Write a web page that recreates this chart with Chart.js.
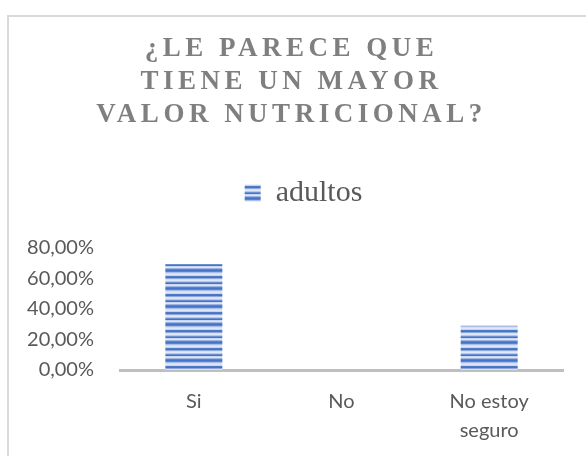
<!DOCTYPE html>
<html>
<head>
<meta charset="utf-8">
<script src="https://cdn.jsdelivr.net/npm/chart.js@4"></script>
<style>
  body { margin: 0; background: #fff; }
  #frame { position: absolute; left: 7px; top: 15px; width: 600px; height: 460px;
           border-left: 2px solid #d9d9d9; border-top: 2px solid #d9d9d9; }
  #chart { position: absolute; left: 0; top: 0; }
</style>
</head>
<body>
<div id="frame"></div>
<canvas id="chart" width="586" height="456"></canvas>
<script>
// Data
const titleLines = ["¿LE PARECE QUE", "TIENE UN MAYOR", "VALOR NUTRICIONAL?"];
const categories = ["Si", "No", ["No estoy", "seguro"]];
const seriesName = "adultos";
const adultos = [0.695, 0, 0.29];
const yTicks = [0, 0.2, 0.4, 0.6, 0.8];

// Striped fill like the Excel texture
function makeStripes() {
  const rows = ["#4472c4", "#5b84cc", "#a9bde6", "#d3def2", "#dfe7f5", "#c4d3ee",
                "#4f7ac8", "#4472c4", "#8ea9dd", "#d6e0f3", "#e2e9f6", "#b7c9ea",
                "#6a8fd2", "#4472c4", "#c9d6ef", "#dde5f5", "#9db4e2", "#5a82cb"];
  const c = document.createElement("canvas");
  c.width = 4;
  c.height = rows.length;
  const g = c.getContext("2d");
  rows.forEach((col, i) => { g.fillStyle = col; g.fillRect(0, i, 4, 1); });
  return document.getElementById("chart").getContext("2d").createPattern(c, "repeat");
}
const stripes = makeStripes();

// Extra room under legend, shifted title/legend, letter spacing on the title
const tweaks = {
  id: "tweaks",
  afterInit(chart) {
    const legend = chart.legend;
    const fit = legend.fit;
    legend.fit = function () { fit.call(this); this.height += 30; };
    const ldraw = legend.draw;
    legend.draw = function () {
      this.ctx.save();
      this.ctx.translate(22, 0);
      ldraw.call(this);
      this.ctx.restore();
    };
    const tb = chart.titleBlock;
    const draw = tb.draw;
    tb.draw = function () {
      const ctx = this.ctx;
      ctx.save();
      ctx.translate(10, 0);
      ctx.letterSpacing = "4.5px";
      draw.call(this);
      ctx.restore();
    };
  }
};

const fmt = v => (v * 100).toFixed(2).replace(".", ",") + "%";

new Chart(document.getElementById("chart"), {
  type: "bar",
  data: {
    labels: categories,
    datasets: [{
      label: seriesName,
      data: adultos,
      backgroundColor: stripes,
      borderWidth: 0,
      categoryPercentage: 1,
      barPercentage: 0.386
    }]
  },
  options: {
    responsive: false,
    animation: false,
    layout: { padding: { left: 0, right: 23, top: 0, bottom: 0 } },
    plugins: {
      title: {
        display: true,
        text: titleLines,
        color: "#7f7f7f",
        font: { family: "Liberation Serif", size: 27, weight: "bold", lineHeight: 1.222 },
        padding: { top: 32.5, bottom: 36.5 }
      },
      legend: {
        labels: {
          color: "#595959",
          font: { family: "Liberation Serif", size: 30 },
          boxWidth: 16,
          boxHeight: 17
        }
      },
      tooltip: { enabled: false }
    },
    scales: {
      x: {
        afterFit(scale) { scale.height = 86; },
        grid: { display: false, drawTicks: false },
        border: { display: true, color: "#bfbfbf", width: 3 },
        ticks: {
          color: "#595959",
          font: { family: "Lato", size: 20, lineHeight: 1.45 },
          padding: 17,
          maxRotation: 0
        }
      },
      y: {
        min: 0,
        max: 0.8,
        afterFit(scale) { scale.width = 120; },
        afterBuildTicks(scale) { scale.ticks = yTicks.map(v => ({ value: v })); },
        grid: { display: false, drawTicks: false },
        border: { display: false },
        ticks: {
          color: "#595959",
          font: { family: "Lato", size: 20 },
          padding: 26,
          callback: v => fmt(v)
        }
      }
    }
  },
  plugins: [tweaks]
});
</script>
</body>
</html>
